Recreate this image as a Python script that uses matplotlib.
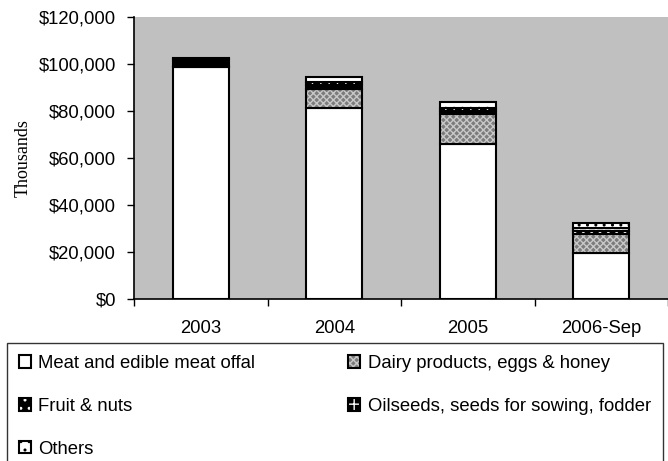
import matplotlib
matplotlib.use('Agg')

import matplotlib.pyplot as plt
from matplotlib.patches import Patch
from matplotlib.ticker import FuncFormatter, FixedLocator
import numpy as np

plt.rcParams['font.family'] = ['Liberation Sans', 'DejaVu Sans']
plt.rcParams['hatch.linewidth'] = 1.0

years = ['2003', '2004', '2005', '2006-Sep']
meat = [98900, 81300, 66000, 19700]
dairy = [200, 8100, 12600, 8000]
fruit = [2900, 1500, 1500, 1300]
oilseeds = [300, 1400, 1300, 1200]
others = [200, 2000, 2300, 2000]

labels = ['Meat and edible meat offal', 'Dairy products, eggs & honey',
          'Fruit & nuts', 'Oilseeds, seeds for sowing, fodder', 'Others']

# (face colour, hatch, hatch colour) per series
styles = [
    ('white', None, 'black'),
    ('#7c7c7c', 'xxxxx', '#c8c8c8'),
    ('black', '..', 'white'),
    ('black', '++', 'white'),
    ('white', '..', 'black'),
]

fig = plt.figure(figsize=(6.68, 4.61), dpi=100)
ax = fig.add_axes([134 / 668, (461 - 299) / 461, 534 / 668, 282 / 461])
ax.set_facecolor('#c0c0c0')

x = np.arange(len(years))
width = 0.42
bottom = np.zeros(len(years))
handles = []
for vals, (fc, hatch, hc), lab in zip([meat, dairy, fruit, oilseeds, others], styles, labels):
    vals = np.array(vals, dtype=float)
    ax.bar(x, vals, width, bottom=bottom, color=fc, hatch=hatch,
           edgecolor=hc, linewidth=0)
    ax.bar(x, vals, width, bottom=bottom, fill=False, edgecolor='black', linewidth=1.5)
    bottom += vals
    handles.append((Patch(facecolor=fc, hatch=hatch, edgecolor=hc, linewidth=0),
                    Patch(fill=False, edgecolor='black', linewidth=1.5)))

ax.set_xlim(-0.5, len(years) - 0.5)
ax.set_ylim(0, 120000)
ax.yaxis.set_major_locator(FixedLocator(np.arange(0, 120001, 20000)))
ax.yaxis.set_major_formatter(FuncFormatter(lambda v, p: '${:,.0f}'.format(v)))
ax.set_xticks(x)
ax.set_xticklabels(years)
ax.set_xticks(np.arange(-0.5, len(years), 1.0), minor=True)
ax.tick_params(axis='x', which='major', length=0, pad=15, labelsize=13.3)
ax.tick_params(axis='x', which='minor', length=5, direction='out', width=1)
ax.tick_params(axis='y', length=5, direction='out', width=1, pad=8, labelsize=13.3)

for s in ['top', 'right']:
    ax.spines[s].set_visible(False)
ax.spines['left'].set_linewidth(1.2)
ax.spines['bottom'].set_linewidth(1.2)

ax.set_ylabel('Thousands', family=['Liberation Serif', 'DejaVu Serif'], fontsize=13, labelpad=5)

# legend fills row by row in the original, matplotlib fills by column
order = [0, 2, 4, 1, 3]
leg = fig.legend([handles[i] for i in order], [labels[i] for i in order], loc='upper left',
                 bbox_to_anchor=(7 / 668, 0, 656 / 668, (461 - 343) / 461),
                 mode='expand', ncol=2, fontsize=13.3, frameon=True, fancybox=False,
                 edgecolor='black', borderaxespad=0, borderpad=0.65, labelspacing=1.4,
                 handlelength=0.65, handleheight=0.65, handletextpad=0.4)
leg.get_frame().set_linewidth(1.0)

fig.savefig('out.png', dpi=100)
